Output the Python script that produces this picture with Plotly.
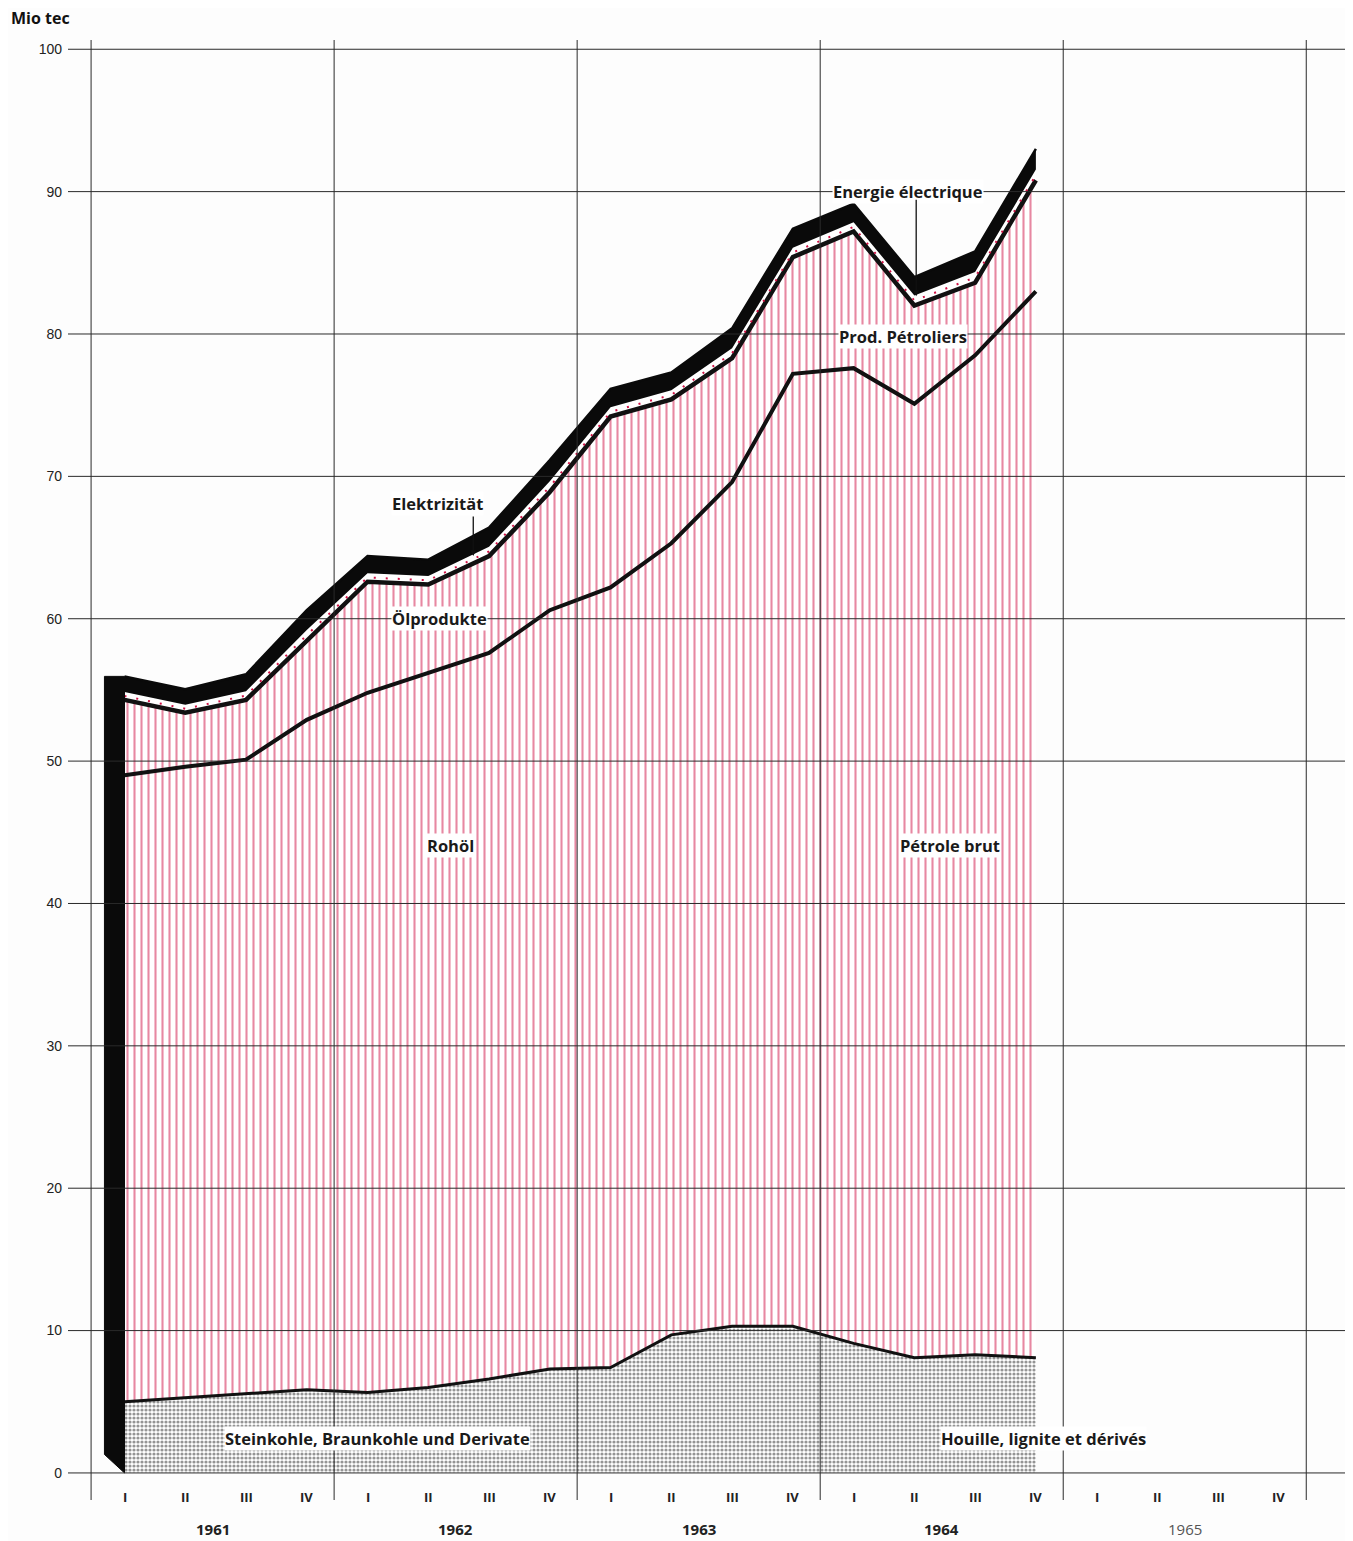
import plotly.graph_objects as go

# ---------------- data (Mio tec), quarterly 1961 I .. 1964 IV ----------------
years = ["1961", "1962", "1963", "1964", "1965"]
quarter_labels = ["I", "II", "III", "IV"]

coal = [5.0, 5.3, 5.55, 5.85, 5.65, 6.0, 6.6, 7.3, 7.4, 9.7, 10.3, 10.3, 9.1, 8.1, 8.3, 8.1]
crude = [44.0, 44.3, 44.55, 47.05, 49.15, 50.2, 51.0, 53.3, 54.8, 55.6, 59.3, 66.9, 68.5, 67.0, 70.2, 74.9]
products = [5.3, 3.8, 4.2, 5.6, 7.8, 6.2, 6.8, 8.3, 12.0, 10.1, 8.7, 8.2, 9.6, 6.9, 5.1, 7.8]
electricity = [0.55, 0.55, 0.6, 0.7, 0.6, 0.6, 0.65, 0.75, 0.65, 0.65, 0.7, 0.65, 0.65, 0.7, 0.75, 0.75]
edge_band = [1.1, 1.1, 1.2, 1.4, 1.2, 1.15, 1.35, 1.5, 1.3, 1.25, 1.4, 1.35, 1.3, 1.3, 1.45, 1.45]

yticks = [0, 10, 20, 30, 40, 50, 60, 70, 80, 90, 100]

# ---------------- derived stacks ----------------
n = len(coal)
xq = [i + 0.55 for i in range(n)]
def cum(*series):
    return [round(sum(v), 3) for v in zip(*series)]
top_coal = cum(coal)
top_crude = cum(coal, crude)
top_prod = cum(coal, crude, products)
top_elec = cum(coal, crude, products, electricity)
top_band = cum(coal, crude, products, electricity, edge_band)
mid_elec = [p + e / 2 for p, e in zip(top_prod, electricity)]

RED = "#cf1245"
FONT = "Open Sans"

fig = go.Figure()

# coal (dotted)
fig.add_trace(go.Scatter(
    x=xq, y=top_coal, mode="lines", fill="tozeroy",
    line=dict(color="#111", width=3),
    fillcolor="#ffffff",
    fillpattern=dict(shape=".", fgcolor="#2a2a2a", bgcolor="#ffffff", size=4, solidity=0.5),
    hoverinfo="skip", showlegend=False))
# crude oil (red hatch)
fig.add_trace(go.Scatter(
    x=xq, y=top_crude, mode="lines", fill="tonexty",
    line=dict(color="#111", width=4),
    fillcolor="#ffffff",
    fillpattern=dict(shape="|", fgcolor=RED, bgcolor="#ffffff", size=7, solidity=0.3),
    hoverinfo="skip", showlegend=False))
# oil products (red hatch)
fig.add_trace(go.Scatter(
    x=xq, y=top_prod, mode="lines", fill="tonexty",
    line=dict(color="#111", width=4.5),
    fillcolor="#ffffff",
    fillpattern=dict(shape="|", fgcolor=RED, bgcolor="#ffffff", size=7, solidity=0.3),
    hoverinfo="skip", showlegend=False))
# electricity (white band)
fig.add_trace(go.Scatter(
    x=xq, y=top_elec, mode="lines", fill="tonexty",
    line=dict(color="rgba(0,0,0,0)", width=0),
    fillcolor="#ffffff",
    hoverinfo="skip", showlegend=False))
# black edge band
fig.add_trace(go.Scatter(
    x=xq, y=top_band, mode="lines", fill="tonexty",
    line=dict(color="#0a0a0a", width=2.5),
    fillcolor="#0a0a0a",
    hoverinfo="skip", showlegend=False))
# dotted line inside the electricity band
fig.add_trace(go.Scatter(
    x=xq, y=mid_elec, mode="lines",
    line=dict(color=RED, width=2, dash="2px,10px"),
    hoverinfo="skip", showlegend=False))
# left black side face
w = 0.33
fig.add_trace(go.Scatter(
    x=[xq[0] - w, xq[0], xq[0], xq[0] - w, xq[0] - w],
    y=[top_band[0], top_band[0], 0, 1.3, top_band[0]],
    mode="lines", fill="toself", fillcolor="#0a0a0a",
    line=dict(color="#0a0a0a", width=1),
    hoverinfo="skip", showlegend=False))

# ---------------- grid lines (above traces) ----------------
shapes = []
for v in yticks:
    shapes.append(dict(type="line", xref="paper", x0=0, x1=1, yref="y", y0=v, y1=v,
                       line=dict(color="#2a2a2a", width=1), layer="above"))
for b in range(0, 4 * len(years) + 1, 4):
    shapes.append(dict(type="line", xref="x", x0=b, x1=b, yref="paper", y0=0, y1=1,
                       line=dict(color="#2a2a2a", width=1), layer="above"))

# ---------------- annotations ----------------
ann = []
for yi, yr in enumerate(years):
    for qi, ql in enumerate(quarter_labels):
        ann.append(dict(x=yi * 4 + qi + 0.55, y=-1.7, xref="x", yref="y", text="<b>" + ql + "</b>",
                        showarrow=False, font=dict(family=FONT, size=13, color="#222")))
    ann.append(dict(x=yi * 4 + 2, y=0, xref="x", yref="paper", yanchor="middle", yshift=-29,
                    text=("<b>" + yr + "</b>") if yr != "1965" else yr, showarrow=False,
                    font=dict(family=FONT, size=15,
                              color="#222" if yr != "1965" else "#555")))

def label(x, y, text, size=16.5):
    ann.append(dict(x=x, y=y, xref="x", yref="y", text="<b>" + text + "</b>", showarrow=False,
                    font=dict(family=FONT, size=size, color="#1a1a1a"),
                    bgcolor="#ffffff", borderpad=0))

label(5.91, 44.1, "Rohöl")
label(14.14, 44.1, "Pétrole brut")
label(5.74, 60.0, "Ölprodukte")
label(5.70, 68.1, "Elektrizität")
label(13.45, 90.0, "Energie électrique")
label(13.37, 79.8, "Prod. Pétroliers")
label(4.71, 2.45, "Steinkohle, Braunkohle und Derivate")
label(15.67, 2.45, "Houille, lignite et dérivés")

# arrows
ann.append(dict(x=6.29, y=64.4, xref="x", yref="y", ax=0, ay=-41, text="", showarrow=True,
                arrowhead=2, arrowsize=0.9, arrowwidth=1.3, arrowcolor="#111"))
ann.append(dict(x=13.58, y=82.65, xref="x", yref="y", ax=0, ay=-98, text="", showarrow=True,
                arrowhead=2, arrowsize=0.9, arrowwidth=1.3, arrowcolor="#111"))

ann.append(dict(x=0, y=1.0, xref="paper", yref="paper", xanchor="left", yanchor="bottom",
                yshift=9, xshift=-59, text="<b>Mio tec</b>", showarrow=False,
                font=dict(family=FONT, size=16, color="#111")))

fig.update_layout(
    width=1345, height=1533,
    margin=dict(l=60, r=3, t=32, b=41),
    paper_bgcolor="#fdfdfd", plot_bgcolor="#fdfdfd",
    shapes=shapes, annotations=ann,
    showlegend=False,
    xaxis=dict(range=[-0.38, 20.72], showgrid=False, zeroline=False, showticklabels=False,
               ticks="", showline=False, fixedrange=True),
    yaxis=dict(range=[-1.9, 100.65], showgrid=False, zeroline=False, tickvals=yticks,
               ticktext=[str(v) for v in yticks], ticks="", showline=False,
               ticklabelstandoff=5,
               tickfont=dict(family="Liberation Sans", size=14, color="#222")),
)

fig.write_html("out.html")
